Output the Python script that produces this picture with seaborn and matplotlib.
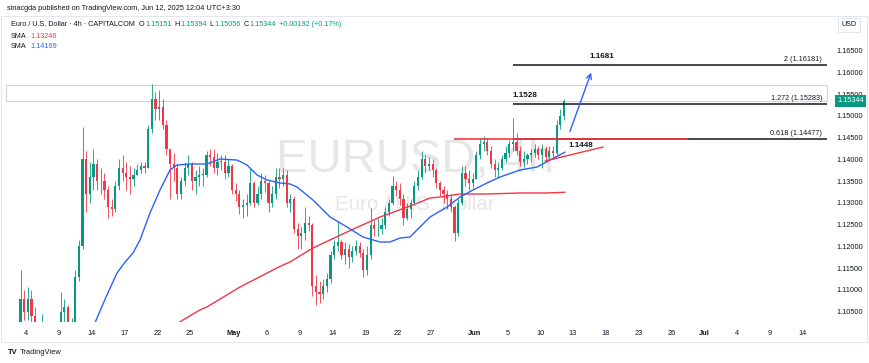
import numpy as np
import pandas as pd
import matplotlib
import matplotlib.pyplot as plt
import matplotlib.transforms as mtransforms
from matplotlib.patches import Rectangle
import seaborn as sns

first_day = -1          # trading-day index of Apr 3 (Apr 4 = 0)
first_open = 1.0860
close_px = [
    1.0960, 1.1080, 1.1050,  1.1080, 1.1040, 1.0960,  1.0920, 1.0990, 1.0910,
    1.0950, 1.0960, 1.0955,  1.1050, 1.1060, 1.0980,  1.1010, 1.1130, 1.1200,
    1.1400, 1.1320, 1.1360,  1.1390, 1.1350, 1.1350,  1.1330, 1.1290, 1.1285,
    1.1340, 1.1380, 1.1370,  1.1360, 1.1355, 1.1365,  1.1375, 1.1385, 1.1380,
    1.1470, 1.1540, 1.1515,  1.1520, 1.1480, 1.1425,  1.1390, 1.1380, 1.1320,
    1.1350, 1.1380, 1.1390,  1.1350, 1.1360, 1.1365,  1.1365, 1.1410, 1.1405,
    1.1380, 1.1395, 1.1395,  1.1370, 1.1385, 1.1330,  1.1320, 1.1290, 1.1295,
    1.1300, 1.1345, 1.1300,  1.1320, 1.1350, 1.1345,  1.1300, 1.1320, 1.1360,
    1.1355, 1.1365, 1.1300,  1.1310, 1.1240, 1.1225,  1.1230, 1.1255, 1.1250,
    1.1110, 1.1095, 1.1090,  1.1110, 1.1125, 1.1180,  1.1200, 1.1210, 1.1180,
    1.1195, 1.1175, 1.1190,  1.1200, 1.1185, 1.1145,  1.1180, 1.1250, 1.1240,
    1.1240, 1.1250, 1.1280,  1.1300, 1.1340, 1.1330,  1.1310, 1.1265, 1.1285,
    1.1300, 1.1340, 1.1360,  1.1400, 1.1385, 1.1390,  1.1375, 1.1345, 1.1330,
    1.1320, 1.1310, 1.1290,  1.1230, 1.1300, 1.1370,  1.1355, 1.1345, 1.1355,
    1.1410, 1.1435, 1.1440,  1.1420, 1.1390, 1.1375,  1.1380, 1.1400, 1.1415,
    1.1435, 1.1440, 1.1420,  1.1395, 1.1400, 1.1410,  1.1415, 1.1425, 1.1410,
    1.1425, 1.1405, 1.1420,  1.1415, 1.1480, 1.1500,  1.15344,
]
high_px = [
    1.0990, 1.1145, 1.1100,  1.1107, 1.1100, 1.1060,  1.0980, 1.1045, 1.1000,
    1.0990, 1.0980, 1.0990,  1.1095, 1.1080, 1.1065,  1.1035, 1.1145, 1.1215,
    1.1474, 1.1420, 1.1395,  1.1425, 1.1400, 1.1380,  1.1370, 1.1340, 1.1310,
    1.1350, 1.1400, 1.1410,  1.1395, 1.1385, 1.1380,  1.1390, 1.1395, 1.1395,
    1.1480, 1.1573, 1.1555,  1.1560, 1.1540, 1.1490,  1.1425, 1.1415, 1.1390,
    1.1360, 1.1395, 1.1410,  1.1395, 1.1375, 1.1385,  1.1380, 1.1420, 1.1425,
    1.1425, 1.1415, 1.1410,  1.1410, 1.1400, 1.1390,  1.1345, 1.1330, 1.1310,
    1.1320, 1.1380, 1.1350,  1.1340, 1.1370, 1.1365,  1.1350, 1.1340, 1.1380,
    1.1380, 1.1380, 1.1375,  1.1320, 1.1315, 1.1255,  1.1245, 1.1290, 1.1270,
    1.1255, 1.1135, 1.1120,  1.1125, 1.1140, 1.1190,  1.1215, 1.1258, 1.1215,
    1.1210, 1.1205, 1.1200,  1.1215, 1.1210, 1.1195,  1.1200, 1.1288, 1.1260,
    1.1265, 1.1265, 1.1290,  1.1310, 1.1363, 1.1350,  1.1345, 1.1320, 1.1300,
    1.1310, 1.1350, 1.1375,  1.1419, 1.1410, 1.1405,  1.1400, 1.1380, 1.1350,
    1.1340, 1.1330, 1.1320,  1.1295, 1.1310, 1.1385,  1.1385, 1.1375, 1.1370,
    1.1420, 1.1450, 1.1455,  1.1450, 1.1430, 1.1400,  1.1395, 1.1410, 1.1430,
    1.1445, 1.1495, 1.1460,  1.1430, 1.1420, 1.1415,  1.1425, 1.1435, 1.1430,
    1.1435, 1.1430, 1.1430,  1.1430, 1.1490, 1.1515,  1.15394,
]
low_px = [
    1.0840, 1.0950, 1.1030,  1.1030, 1.1020, 1.0950,  1.0880, 1.0900, 1.0890,
    1.0900, 1.0930, 1.0920,  1.0950, 1.1020, 1.0960,  1.0960, 1.1000, 1.1120,
    1.1195, 1.1280, 1.1300,  1.1330, 1.1330, 1.1320,  1.1310, 1.1265, 1.1270,
    1.1280, 1.1330, 1.1350,  1.1330, 1.1320, 1.1340,  1.1365, 1.1370, 1.1370,
    1.1380, 1.1460, 1.1490,  1.1490, 1.1470, 1.1410,  1.1309, 1.1350, 1.1310,
    1.1310, 1.1340, 1.1365,  1.1330, 1.1320, 1.1340,  1.1340, 1.1360, 1.1385,
    1.1370, 1.1365, 1.1375,  1.1355, 1.1360, 1.1320,  1.1305, 1.1275, 1.1265,
    1.1270, 1.1295, 1.1290,  1.1295, 1.1310, 1.1325,  1.1280, 1.1290, 1.1310,
    1.1335, 1.1340, 1.1290,  1.1280, 1.1230, 1.1195,  1.1195, 1.1215, 1.1235,
    1.1085, 1.1065, 1.1070,  1.1080, 1.1095, 1.1115,  1.1170, 1.1190, 1.1170,
    1.1160, 1.1150, 1.1165,  1.1180, 1.1175, 1.1130,  1.1135, 1.1170, 1.1225,
    1.1225, 1.1228, 1.1240,  1.1270, 1.1295, 1.1315,  1.1295, 1.1250, 1.1260,
    1.1265, 1.1295, 1.1330,  1.1355, 1.1370, 1.1375,  1.1360, 1.1335, 1.1315,
    1.1300, 1.1285, 1.1280,  1.1212, 1.1225, 1.1295,  1.1340, 1.1330, 1.1335,
    1.1355, 1.1400, 1.1420,  1.1410, 1.1380, 1.1360,  1.1360, 1.1375, 1.1395,
    1.1405, 1.1420, 1.1410,  1.1385, 1.1380, 1.1390,  1.1395, 1.1405, 1.1400,
    1.1380, 1.1395, 1.1400,  1.1400, 1.1410, 1.1470,  1.1490,
]

# moving averages (trading-day index, price)
sma_fast_day = [6.22, 7.30, 8.32, 9.05, 9.78, 10.42, 11.33, 12.25, 13.16, 13.80, 14.99,
                16.54, 17.73, 19.29, 20.20, 21.12, 22.03, 23.22, 24.13, 24.77, 26.23,
                27.79, 29.34, 30.80, 32.36, 33.27, 34.19, 35.10, 36.01, 36.93, 38.48,
                39.67, 40.86, 42.14, 43.33, 45.16, 46.71, 47.90, 49.27]
sma_fast_val = [1.10194, 1.10830, 1.11389, 1.11640, 1.11849, 1.12148, 1.12769, 1.13298,
                1.13757, 1.13872, 1.13895, 1.13895, 1.14010, 1.13987, 1.13872, 1.13642,
                1.13528, 1.13459, 1.13436, 1.13367, 1.13068, 1.12677, 1.12447, 1.12217,
                1.12102, 1.12102, 1.12194, 1.12217, 1.12447, 1.12677, 1.12906, 1.13136,
                1.13298, 1.13459, 1.13597, 1.13757, 1.13826, 1.13987, 1.14169]
sma_slow_day = [13.16, 14.35, 15.90, 16.54, 19.56, 22.58, 23.22, 24.13, 26.23, 29.34,
                32.36, 35.37, 36.93, 37.84, 39.67, 42.14, 45.16, 47.62, 49.27]
sma_slow_val = [1.10120, 1.10310, 1.10540, 1.10609, 1.11068, 1.11459, 1.11541, 1.11643,
                1.11965, 1.12332, 1.12677, 1.12953, 1.13114, 1.13136, 1.13206, 1.13206,
                1.13229, 1.13229, 1.13246]

tick_days = [0, 3, 6, 9, 12, 15, 19, 22, 25, 28, 31, 34, 37, 41, 44, 47, 50, 53, 56,
             59, 62, 65, 68, 71]
tick_labels = ["4", "9", "14", "17", "22", "25", "May", "6", "9", "14", "19", "22", "27",
               "Jun", "5", "10", "13", "18", "23", "26", "Jul", "4", "9", "14"]
price_ticks = [1.105, 1.110, 1.115, 1.120, 1.125, 1.130, 1.135, 1.140, 1.145, 1.150,
               1.155, 1.160, 1.165]

fib_levels = [1.16181, 1.15283, 1.14477]
fib_names = ["2 (1.16181)", "1.272 (1.15283)", "0.618 (1.14477)"]
target_labels = ["1.1681", "1.1528", "1.1448"]
last_price = 1.15344

UP, DOWN = "#089981", "#f23645"
BLUE, RED = "#2962ff", "#f23645"
INK = "#131722"

sns.set_theme(style="white")
plt.rcParams['font.family'] = ['Liberation Sans', 'DejaVu Sans']

# candles -> dataframe
n = len(close_px)
df = pd.DataFrame({"close": close_px, "high": high_px, "low": low_px})
df["open"] = [first_open] + close_px[:-1]
df["x"] = first_day + np.arange(n) // 3 + (np.arange(n) % 3 + 0.5) / 3
df["high"] = df[["high", "open", "close"]].max(axis=1)
df["low"] = df[["low", "open", "close"]].min(axis=1)
df["up"] = df["close"] >= df["open"]

W, H = 870, 363
fig = plt.figure(figsize=(W / 100, H / 100), dpi=100)
fig.patch.set_facecolor("white")

def fx(px):
    return px / W

def fy(py):
    return 1 - py / H

ax = fig.add_axes([0, fy(322), fx(832), (322 - 17) / H])
ax.set_xlim(-2.377, 73.67)
ax.set_ylim(1.10263, 1.17275)
ax.set_facecolor("white")

# watermark
ax.text(0.499, 0.531, "EURUSD, 4h", transform=ax.transAxes, ha="center", va="center",
        fontsize=34, color="#e6e6e6", zorder=0)
ax.text(0.499, 0.384, "Euro / U.S. Dollar", transform=ax.transAxes, ha="center",
        va="center", fontsize=14.8, color="#e6e6e6", zorder=0)

# range box at the April high
ax.add_patch(Rectangle((-1.83, 1.15344), 73.22 + 1.83, 1.15712 - 1.15344, fill=False,
                       edgecolor="#d1d4dc", lw=0.8, zorder=1))

# candles
colors = np.where(df["up"], UP, DOWN)
ax.vlines(df["x"], df["low"], df["high"], colors=colors, lw=0.6, zorder=3)
body = (df["close"] - df["open"]).abs().clip(lower=0.00006)
ax.bar(df["x"], body, bottom=df[["open", "close"]].min(axis=1), width=0.2,
       color=colors, linewidth=0, zorder=4)

# moving averages
sns.lineplot(x=sma_slow_day, y=sma_slow_val, ax=ax, color=RED, lw=1.0, zorder=5)
sns.lineplot(x=sma_fast_day, y=sma_fast_val, ax=ax, color=BLUE, lw=1.0, zorder=5)

# fib extension levels
for lvl, name in zip(fib_levels, fib_names):
    ax.hlines(lvl, 44.52, 73.22, color=INK, lw=1.1, zorder=6)
    ax.text(72.76, lvl + 0.00125, name, ha="right", va="center", fontsize=5.2,
            color=INK, zorder=7)
ax.hlines(fib_levels[2], 39.12, 60.51, color=RED, lw=1.2, zorder=7)
ax.plot([47.44, 52.74], [1.13964, 1.14286], color=RED, lw=1.0, zorder=7)
ax.annotate("", xy=(51.74, 1.16056), xytext=(49.63, 1.14585),
            arrowprops=dict(arrowstyle="->", color=BLUE, lw=1.0, mutation_scale=9),
            zorder=8)

for txt, (tx, ty) in zip(target_labels, [(52.65, 1.16378), (45.61, 1.15459), (50.73, 1.14332)]):
    ax.text(tx, ty, txt, ha="center", va="center", fontsize=5.9, fontweight="bold",
            color=INK, zorder=8)

# axes and ticks
for s in ax.spines.values():
    s.set_visible(False)
ax.yaxis.tick_right()
ax.set_yticks(price_ticks)
ax.set_yticklabels([f"{v:.5f}" for v in price_ticks])
ax.set_xticks(tick_days)
ax.set_xticklabels(tick_labels)
for lab in ax.get_xticklabels():
    if lab.get_text() in ("May", "Jun", "Jul"):
        lab.set_fontweight("bold")
ax.tick_params(axis="y", length=0, pad=3.5, labelsize=5.3, colors=INK)
ax.tick_params(axis="x", length=0, pad=6, labelsize=5.3, colors=INK)
ax.set_xlabel("")
ax.set_ylabel("")
ax.grid(False)

# last price tag + currency tag
blend = mtransforms.blended_transform_factory(fig.transFigure, ax.transData)
ax.text(fx(850.5), last_price, f"{last_price:.5f}", transform=blend, ha="center",
        va="center", fontsize=5.3, color="white", zorder=10, clip_on=False,
        bbox=dict(boxstyle="square,pad=0.3", fc=UP, ec="none"))
fig.text(fx(849), fy(25), "USD", ha="center", va="center", fontsize=5.2, color=INK,
         bbox=dict(boxstyle="square,pad=0.45", fc="white", ec="#e0e3eb", lw=0.6))

# frame around the chart
fig.add_artist(Rectangle((fx(1), fy(342)), fx(866), (342 - 16) / H, transform=fig.transFigure,
                         fill=False, edgecolor="#e0e3eb", lw=0.6))

# header lines
fig.text(fx(7), fy(9), "sinacgda published on TradingView.com, Jun 12, 2025 12:04 UTC+3:30",
         fontsize=5.3, color=INK, va="center")

renderer = fig.canvas.get_renderer()

def chain(x0, y, parts, size=5.2):
    x = x0
    for txt, col, gap in parts:
        t = fig.text(fx(x), fy(y), txt, fontsize=size, color=col, va="center")
        bb = t.get_window_extent(renderer=renderer)
        x = bb.x1 + gap

chain(11, 25, [("Euro / U.S. Dollar \u00b7 4h \u00b7 CAPITALCOM", INK, 4),
               ("O", INK, 0.5), ("1.15151", UP, 3),
               ("H", INK, 0.5), ("1.15394", UP, 3),
               ("L", INK, 0.5), ("1.15056", UP, 3),
               ("C", INK, 0.5), ("1.15344", UP, 3),
               ("+0.00192 (+0.17%)", UP, 0)])
chain(11, 36, [("SMA", INK, 4), ("1.13246", RED, 0)])
chain(11, 47, [("SMA", INK, 4), ("1.14169", BLUE, 0)])

# footer
fig.text(fx(8), fy(353), "TV", fontsize=5.5, fontweight="bold", color=INK, va="center")
fig.text(fx(20), fy(353), "TradingView", fontsize=5.4, color=INK, va="center")

fig.savefig("out.png", dpi=100, facecolor="white")
